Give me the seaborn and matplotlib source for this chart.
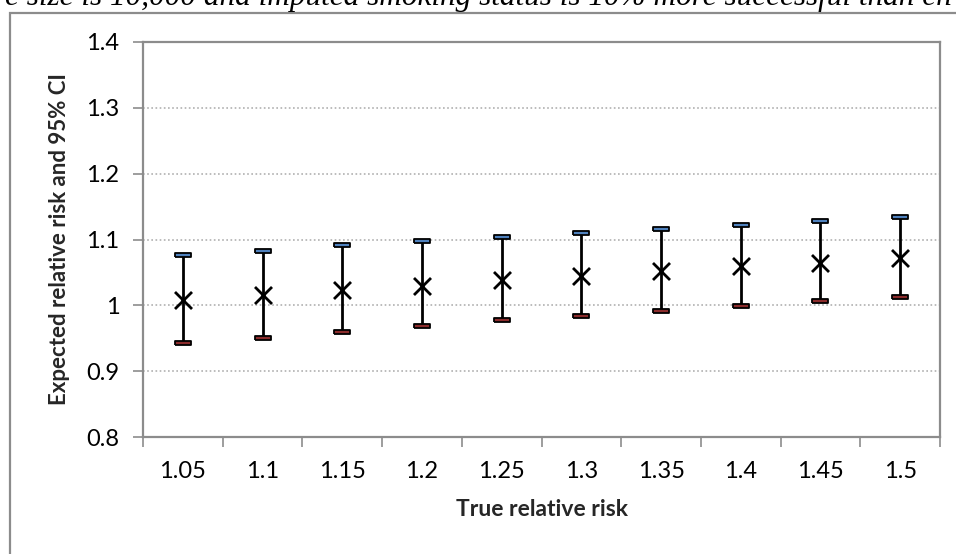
import matplotlib
matplotlib.use("Agg")
import matplotlib.pyplot as plt
import seaborn as sns
import pandas as pd
import numpy as np
from matplotlib.patches import Rectangle
from matplotlib.ticker import FixedLocator, NullFormatter, FixedFormatter

# ---- data ----
true_rr = ["1.05", "1.1", "1.15", "1.2", "1.25", "1.3", "1.35", "1.4", "1.45", "1.5"]
expected_rr = [1.008, 1.015, 1.023, 1.030, 1.038, 1.045, 1.052, 1.059, 1.065, 1.072]
upper_ci = [1.077, 1.083, 1.091, 1.097, 1.104, 1.110, 1.116, 1.122, 1.128, 1.134]
lower_ci = [0.943, 0.951, 0.960, 0.968, 0.977, 0.984, 0.992, 0.999, 1.006, 1.013]
y_ticks = [0.8, 0.9, 1.0, 1.1, 1.2, 1.3, 1.4]
y_tick_labels = ["0.8", "0.9", "1", "1.1", "1.2", "1.3", "1.4"]
title_text = "e size is 10,000 and imputed smoking status is 10% more successful than ch"

df = pd.DataFrame({"true": true_rr, "exp": expected_rr, "hi": upper_ci, "lo": lower_ci})

sns.set_theme(style="white")
plt.rcParams["font.family"] = ["Lato", "DejaVu Sans"]

W, H = 956, 554
fig = plt.figure(figsize=(W / 100, H / 100), dpi=100)
ax = fig.add_axes([143 / W, (H - 437) / H, (940 - 143) / W, (437 - 42) / H])

gray = "#8c8c8c"

# error bars
xpos = np.arange(len(df))
ax.vlines(xpos, df["lo"], df["hi"], color="black", lw=2, zorder=3)

cap = [(-1, -0.24), (1, -0.24), (1, 0.24), (-1, 0.24), (-1, -0.24)]
sns.scatterplot(data=df, x="true", y="hi", marker=cap, s=120, color="#4F81BD",
                edgecolor="black", linewidth=1.3, ax=ax, zorder=4)
sns.scatterplot(data=df, x="true", y="lo", marker=cap, s=120, color="#8B2C2C",
                edgecolor="black", linewidth=1.3, ax=ax, zorder=4)
sns.scatterplot(data=df, x="true", y="exp", marker="x", s=150, color="black",
                linewidth=2.0, ax=ax, zorder=5)

ax.set_xlim(-0.5, len(df) - 0.5)
ax.set_ylim(0.8, 1.4)

# y axis
ax.set_yticks(y_ticks)
ax.set_yticklabels(y_tick_labels, fontsize=17, color="black")
ax.tick_params(axis="y", which="major", direction="out", length=7, width=1.2,
               color=gray, pad=10, left=True)

# x axis: ticks between categories, labels at centres
ax.xaxis.set_major_locator(FixedLocator(np.arange(-0.5, len(df), 1.0)))
ax.xaxis.set_major_formatter(NullFormatter())
ax.xaxis.set_minor_locator(FixedLocator(xpos))
ax.xaxis.set_minor_formatter(FixedFormatter(true_rr))
ax.tick_params(axis="x", which="major", direction="out", length=7, width=1.2,
               color=gray, bottom=True)
ax.tick_params(axis="x", which="minor", length=0, labelsize=17, pad=17,
               labelcolor="black")

# gridlines
for yv in y_ticks[1:-1]:
    ax.axhline(yv, color="#b0b0b0", lw=1.2, ls=(0, (1, 1.5)), zorder=1)

for s in ax.spines.values():
    s.set_color(gray)
    s.set_linewidth(1.6)
    s.set_visible(True)

ax.set_xlabel("True relative risk", fontsize=16.5, fontweight="bold")
ax.set_ylabel("Expected relative risk and 95% CI", fontsize=16, fontweight="bold")
ax.xaxis.set_label_coords(0.5, (437 - 510) / 395, transform=ax.transAxes)
ax.yaxis.set_label_coords((60 - 143) / 797, 0.5, transform=ax.transAxes)
ax.xaxis.label.set_va("center")
ax.yaxis.label.set_va("center")

# outer chart border
fig.patches.append(Rectangle((10 / W, -0.1), 1.2, (H - 13) / H + 0.1,
                             transform=fig.transFigure, fill=False,
                             edgecolor=gray, lw=1.6, zorder=0))

# title (clipped at the top edge, as in the source)
fig.text(0.5, (H - 5) / H, title_text, ha="center", va="baseline",
         fontsize=22.5, style="italic", family=["Liberation Serif", "DejaVu Serif"],
         color="black")

fig.savefig("out.png", dpi=100)
